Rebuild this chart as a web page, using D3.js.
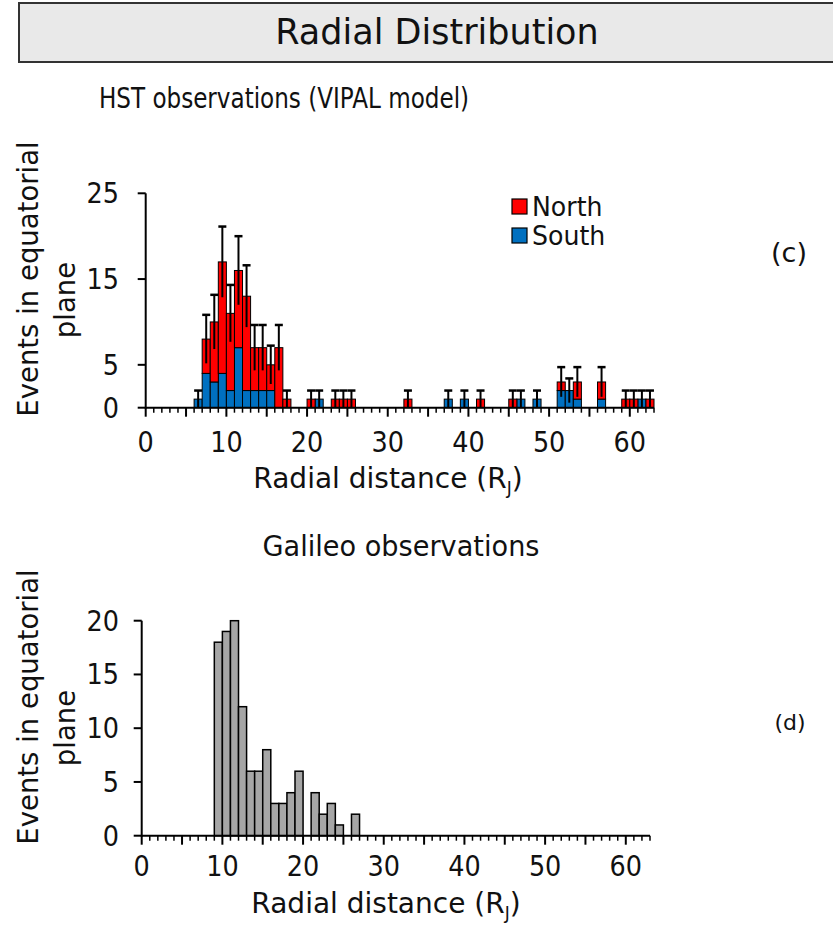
<!DOCTYPE html>
<html>
<head>
<meta charset="utf-8">
<script src="https://cdn.jsdelivr.net/npm/d3@7"></script>
<style>
  html, body { margin: 0; padding: 0; background: #fff; }
  svg { display: block; font-family: "DejaVu Sans", Verdana, sans-serif; }
</style>
</head>
<body>
<svg id="chart" width="833" height="925"></svg>
<script>
// HST events (VIPAL model), 1 R_J bins: bin start, North and South counts
const hstDistance = [6, 7, 8, 9, 10, 11, 12, 13, 14, 15, 16, 17, 20, 21, 23, 24, 25, 32, 37, 39, 41, 45, 46, 48, 51, 52, 53, 56, 59, 60, 61, 62];
const hstNorth    = [0, 4, 7, 13, 9, 9, 11, 5, 5, 3, 7, 1, 1, 0, 1, 1, 1, 1, 0, 0, 1, 1, 0, 0, 1, 0, 2, 2, 1, 1, 0, 1];
const hstSouth    = [1, 4, 3, 4, 2, 7, 2, 2, 2, 2, 0, 0, 0, 1, 0, 0, 0, 0, 1, 1, 0, 0, 1, 1, 2, 2, 1, 1, 0, 0, 1, 0];

// Galileo events, 1 R_J bins
const galileoDistance = [9, 10, 11, 12, 13, 14, 15, 16, 17, 18, 19, 21, 22, 23, 24, 26];
const galileoCount    = [18, 19, 20, 12, 6, 6, 8, 3, 3, 4, 6, 4, 2, 3, 1, 2];

const hstYTicks = [0, 5, 15, 25];
const galileoYTicks = [0, 5, 10, 15, 20];
const xTickLabels = [0, 10, 20, 30, 40, 50, 60];
const seriesNames = ["North", "South"];
const seriesColors = ["#ff0000", "#0070c0"];

const svg = d3.select("#chart");

// text helper with optional horizontal squeeze
function label(parent, x, y, str, size, anchor = "middle", sx = 1) {
  return parent.append("text")
    .attr("transform", `translate(${x},${y}) scale(${sx},1)`)
    .attr("text-anchor", anchor).attr("font-size", size).attr("fill", "#111")
    .text(str);
}

// Header box
svg.append("rect")
  .attr("x", 19).attr("y", 3).attr("width", 830).attr("height", 59)
  .attr("fill", "#e9e9e9").attr("stroke", "#333").attr("stroke-width", 2);
label(svg, 437, 44, "Radial Distribution", 35, "middle", 1);

function drawAxes(g, x, y, yTicks, opts) {
  const [x0] = x.range();
  const [yb, yt] = y.range();
  const xd = x.domain();
  // x axis: minor ticks every unit, longer every 5
  g.append("line").attr("x1", x0).attr("x2", x.range()[1])
    .attr("y1", yb).attr("y2", yb).attr("stroke", "#000").attr("stroke-width", 2);
  g.selectAll(".xt").data(d3.range(xd[0], xd[1] + 1)).join("line")
    .attr("x1", d => x(d)).attr("x2", d => x(d))
    .attr("y1", yb).attr("y2", d => yb + (d % 5 === 0 ? 9 : 5))
    .attr("stroke", "#000").attr("stroke-width", d => d % 5 === 0 ? 2 : 1.5);
  xTickLabels.forEach(d => label(g, x(d), opts.xLabelY, d, 29, "middle", 0.88));
  // y axis
  g.append("line").attr("x1", x0).attr("x2", x0)
    .attr("y1", yb + 1).attr("y2", yt).attr("stroke", "#000").attr("stroke-width", 2);
  g.selectAll(".yt").data(yTicks).join("line")
    .attr("x1", x0 - 8).attr("x2", x0)
    .attr("y1", d => y(d)).attr("y2", d => y(d))
    .attr("stroke", "#000").attr("stroke-width", 2);
  yTicks.forEach(d => label(g, opts.yLabelX, y(d) + 10, d, 29, "end", 0.88));
  // axis titles
  const xt = g.append("text").attr("x", opts.xTitleX).attr("y", opts.xTitleY)
    .attr("text-anchor", "middle").attr("font-size", 28).attr("fill", "#111");
  xt.append("tspan").text("Radial distance (R");
  xt.append("tspan").attr("font-size", 17).attr("dy", 6).text("J");
  xt.append("tspan").attr("dy", -6).text(")");
  g.append("text")
    .attr("transform", `translate(38,${opts.yTitleC}) rotate(-90)`)
    .attr("text-anchor", "middle").attr("font-size", 27.5).attr("fill", "#111")
    .text("Events in equatorial");
  g.append("text")
    .attr("transform", `translate(75,${opts.yTitleC + 21}) rotate(-90)`)
    .attr("text-anchor", "middle").attr("font-size", 27.5).attr("fill", "#111")
    .text("plane");
}

// ---------- Panel (c): HST ----------
const gc = svg.append("g");
const xc = d3.scaleLinear().domain([0, 63]).range([145.7, 654]);
const yc = d3.scaleLinear().domain([0, 25]).range([407.7, 193.3]);

label(gc, 284, 108, "HST observations (VIPAL model)", 28.5, "middle", 0.81);

const hstRows = hstDistance.map((d, i) => ({ d, north: hstNorth[i], south: hstSouth[i] }));
const stacked = d3.stack().keys(["south", "north"])(hstRows);
const stackColor = { south: seriesColors[1], north: seriesColors[0] };

stacked.forEach(layer => {
  gc.append("g").selectAll("rect")
    .data(layer.filter(s => s[1] > s[0]))
    .join("rect")
    .attr("x", s => xc(s.data.d))
    .attr("width", s => xc(s.data.d + 1) - xc(s.data.d))
    .attr("y", s => yc(s[1]))
    .attr("height", s => yc(s[0]) - yc(s[1]))
    .attr("fill", stackColor[layer.key])
    .attr("stroke", "#000").attr("stroke-width", 1);
});

// error bars (±sqrt(n)) on the bin totals
const errG = gc.append("g").attr("stroke", "#000");
hstRows.forEach(r => {
  const n = r.north + r.south;
  const cx = (xc(r.d) + xc(r.d + 1)) / 2;
  const e = Math.sqrt(n);
  errG.append("line").attr("x1", cx).attr("x2", cx)
    .attr("y1", yc(n - e)).attr("y2", yc(n + e)).attr("stroke-width", 2);
  errG.append("line").attr("x1", cx - 4).attr("x2", cx + 4)
    .attr("y1", yc(n + e)).attr("y2", yc(n + e)).attr("stroke-width", 2.5);
});

drawAxes(gc, xc, yc, hstYTicks, { xLabelY: 452, yLabelX: 119, xTitleX: 388, xTitleY: 488, yTitleC: 279 });

// legend
const leg = gc.append("g");
seriesNames.forEach((name, i) => {
  leg.append("rect").attr("x", 512).attr("y", 199 + i * 29).attr("width", 15).attr("height", 15)
    .attr("fill", seriesColors[i]).attr("stroke", "#000").attr("stroke-width", 1.2);
  label(leg, 532, 216 + i * 29, name, 26, "start", 0.97);
});

label(svg, 789, 262, "(c)", 27);

// ---------- Panel (d): Galileo ----------
const gd = svg.append("g");
const xd = d3.scaleLinear().domain([0, 63]).range([141.7, 650]);
const yd = d3.scaleLinear().domain([0, 20]).range([835.7, 620.7]);

label(gd, 401, 556, "Galileo observations", 28, "middle", 0.97);

gd.append("g").selectAll("rect")
  .data(galileoDistance.map((d, i) => ({ d, n: galileoCount[i] })))
  .join("rect")
  .attr("x", r => xd(r.d))
  .attr("width", r => xd(r.d + 1) - xd(r.d))
  .attr("y", r => yd(r.n))
  .attr("height", r => yd(0) - yd(r.n))
  .attr("fill", "#a6a6a6").attr("stroke", "#000").attr("stroke-width", 1.5);

drawAxes(gd, xd, yd, galileoYTicks, { xLabelY: 876, yLabelX: 119, xTitleX: 386, xTitleY: 913, yTitleC: 707 });

label(svg, 790, 730, "(d)", 22);
</script>
</body>
</html>
